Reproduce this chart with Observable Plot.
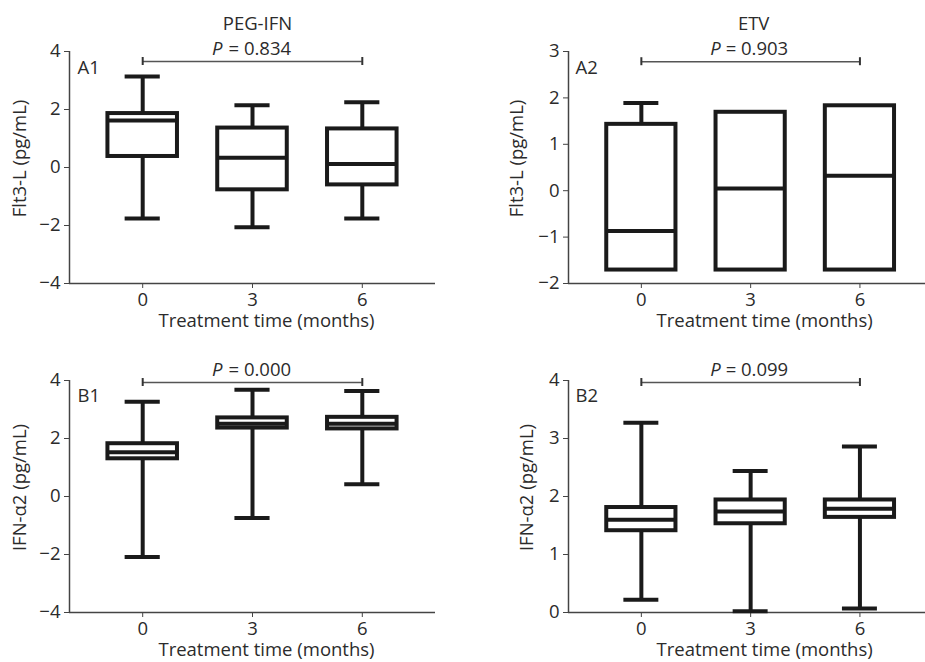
<!DOCTYPE html>
<html>
<head>
<meta charset="utf-8">
<script src="https://cdn.jsdelivr.net/npm/d3@7"></script>
<script src="https://cdn.jsdelivr.net/npm/@observablehq/plot@0.6"></script>
<style>
  html, body { margin: 0; padding: 0; background: #fff; }
  #wrap { position: relative; width: 925px; height: 662px; overflow: hidden; }
  svg { font-family: "Open Sans", sans-serif; overflow: visible; }
</style>
</head>
<body>
<div id="wrap"></div>
<script>
// ---- Data ----
const months = [0, 3, 6];

// A1: PEG-IFN, Flt3-L (pg/mL)
const a1Low    = [-1.76, -2.06, -1.76];
const a1Q1     = [0.38, -0.77, -0.60];
const a1Median = [1.62, 0.34, 0.12];
const a1Q3     = [1.86, 1.36, 1.33];
const a1High   = [3.14, 2.15, 2.25];

// A2: ETV, Flt3-L (pg/mL)
const a2Low    = [-1.71, -1.71, -1.71];
const a2Q1     = [-1.71, -1.71, -1.71];
const a2Median = [-0.87, 0.05, 0.32];
const a2Q3     = [1.43, 1.69, 1.83];
const a2High   = [1.89, 1.69, 1.83];

// B1: PEG-IFN, IFN-α2 (pg/mL)
const b1Low    = [-2.09, -0.74, 0.42];
const b1Q1     = [1.30, 2.36, 2.33];
const b1Median = [1.53, 2.51, 2.51];
const b1Q3     = [1.82, 2.71, 2.73];
const b1High   = [3.27, 3.68, 3.64];

// B2: ETV, IFN-α2 (pg/mL)
const b2Low    = [0.22, 0.02, 0.07];
const b2Q1     = [1.41, 1.53, 1.64];
const b2Median = [1.60, 1.74, 1.79];
const b2Q3     = [1.81, 1.94, 1.94];
const b2High   = [3.27, 2.44, 2.86];

const titles   = ["PEG-IFN", "ETV", "", ""];
const pValues  = ["= 0.834", "= 0.903", "= 0.000", "= 0.099"];
const panelIds = ["A1", "A2", "B1", "B2"];
const yLabels  = ["Flt3-L (pg/mL)", "Flt3-L (pg/mL)", "IFN-α2 (pg/mL)", "IFN-α2 (pg/mL)"];
const xLabel   = "Treatment time (months)";
const yTicksA1 = [-4, -2, 0, 2, 4];
const yTicksA2 = [-2, -1, 0, 1, 2, 3];
const yTicksB1 = [-4, -2, 0, 2, 4];
const yTicksB2 = [0, 1, 2, 3, 4];
const bracketY = [3.655, 2.78, 3.93, 3.965];

// ---- Drawing ----
const INK = "#1a1a1a";
const AXIS = "#444";
const TEXT = "#2b2b2b";
const FS = 18.5;

function rows(low, q1, med, q3, high) {
  return months.map((m, i) => ({m, low: low[i], q1: q1[i], med: med[i], q3: q3[i], high: high[i]}));
}

function panel(cfg) {
  const data = rows(...cfg.series);
  const y0 = cfg.yDomain[0];
  const bw = 0.95, cw = 0.48;
  const br = [{x1: 0, x2: 6, y: cfg.bracket}];
  return Plot.plot({
    width: cfg.width,
    height: cfg.height,
    marginLeft: cfg.ml,
    marginRight: cfg.mr,
    marginTop: cfg.mt,
    marginBottom: cfg.mb,
    style: {fontFamily: "'Open Sans', sans-serif", fontSize: FS + "px", color: TEXT, background: "transparent", overflow: "visible"},
    x: {domain: cfg.xDomain, label: null},
    y: {domain: cfg.yDomain, label: null},
    marks: [
      Plot.axisX({ticks: months, tickSize: 5, tickPadding: 4, stroke: AXIS, fill: TEXT, fontSize: FS, label: null, tickFormat: d3.format("d")}),
      Plot.axisY({ticks: cfg.yTicks, tickSize: 5, tickPadding: 4, stroke: AXIS, fill: TEXT, fontSize: FS, label: null, tickFormat: d3.format("d")}),
      Plot.ruleX([cfg.xDomain[0]], {stroke: AXIS, strokeWidth: 1.5}),
      Plot.ruleY([y0], {stroke: AXIS, strokeWidth: 1.5}),
      // whiskers
      Plot.ruleX(data, {x: "m", y1: "q3", y2: "high", stroke: INK, strokeWidth: 4}),
      Plot.ruleX(data, {x: "m", y1: "low", y2: "q1", stroke: INK, strokeWidth: 4}),
      Plot.ruleY(data.filter(d => d.high > d.q3), {y: "high", x1: d => d.m - cw, x2: d => d.m + cw, stroke: INK, strokeWidth: 4}),
      Plot.ruleY(data.filter(d => d.low < d.q1), {y: "low", x1: d => d.m - cw, x2: d => d.m + cw, stroke: INK, strokeWidth: 4}),
      // boxes
      Plot.rect(data, {x1: d => d.m - bw, x2: d => d.m + bw, y1: "q1", y2: "q3", fill: "white", stroke: INK, strokeWidth: 4}),
      Plot.ruleY(data, {y: "med", x1: d => d.m - bw, x2: d => d.m + bw, stroke: INK, strokeWidth: 4}),
      // significance bracket
      Plot.ruleY(br, {y: "y", x1: "x1", x2: "x2", stroke: "#555", strokeWidth: 1.5}),
      Plot.ruleX([0, 6], {x: d => d, y1: () => cfg.bracket, y2: () => cfg.bracket, insetTop: -4, insetBottom: -4, stroke: "#333", strokeWidth: 2}),
      // P value text
      Plot.text(["P"], {x: () => 3, frameAnchor: "top", dy: cfg.pdy, dx: -30, textAnchor: "end", lineAnchor: "middle", fontStyle: "italic", fill: TEXT, fontSize: FS}),
      Plot.text([cfg.p], {x: () => 3, frameAnchor: "top", dy: cfg.pdy, dx: cfg.pdx, textAnchor: "start", lineAnchor: "middle", fill: TEXT, fontSize: FS}),
      // title
      cfg.title ? Plot.text([cfg.title], {x: () => 3, frameAnchor: "top", dy: -27, dx: cfg.tdx, lineAnchor: "middle", fill: TEXT, fontSize: FS}) : null,
      // panel id
      Plot.text([cfg.id], {frameAnchor: "top-left", dx: cfg.idx, dy: cfg.idy, textAnchor: "start", lineAnchor: "middle", fill: TEXT, fontSize: FS}),
      // axis titles
      Plot.text([cfg.yLabel], {frameAnchor: "left", rotate: -90, dx: -cfg.ylOff, dy: -9, textAnchor: "middle", lineAnchor: "middle", fill: TEXT, fontSize: FS}),
      Plot.text([xLabel], {x: () => 3, frameAnchor: "bottom", dy: cfg.xldy, dx: 14, textAnchor: "middle", lineAnchor: "middle", fill: TEXT, fontSize: FS})
    ].filter(Boolean)
  });
}

const wrap = document.getElementById("wrap");
const configs = [
  {left: 0,   top: 0,   width: 460, height: 330, ml: 69,  mr: 25, mt: 51, mb: 47, xDomain: [-2, 8],   yDomain: [-4, 4], yTicks: yTicksA1,
   series: [a1Low, a1Q1, a1Median, a1Q3, a1High], bracket: bracketY[0], p: pValues[0], title: titles[0], id: panelIds[0], yLabel: yLabels[0],
   ylOff: 49, pdy: -2, pdx: -24, tdx: 5, idx: 8, idy: 17, xldy: 38},
  {left: 460, top: 0,   width: 465, height: 330, ml: 108, mr: 0,  mt: 51, mb: 47, xDomain: [-2, 7.8], yDomain: [-2, 3], yTicks: yTicksA2,
   series: [a2Low, a2Q1, a2Median, a2Q3, a2High], bracket: bracketY[1], p: pValues[1], title: titles[1], id: panelIds[1], yLabel: yLabels[1],
   ylOff: 51, pdy: -2, pdx: -25, tdx: 3, idx: 7, idy: 17, xldy: 38},
  {left: 0,   top: 330, width: 460, height: 332, ml: 69,  mr: 25, mt: 50, mb: 50, xDomain: [-2, 8],   yDomain: [-4, 4], yTicks: yTicksB1,
   series: [b1Low, b1Q1, b1Median, b1Q3, b1High], bracket: bracketY[2], p: pValues[2], title: titles[2], id: panelIds[2], yLabel: yLabels[2],
   ylOff: 49, pdy: -10, pdx: -24, tdx: 5, idx: 8, idy: 16, xldy: 38},
  {left: 460, top: 330, width: 465, height: 332, ml: 108, mr: 0,  mt: 50, mb: 50, xDomain: [-2, 7.8], yDomain: [0, 4], yTicks: yTicksB2,
   series: [b2Low, b2Q1, b2Median, b2Q3, b2High], bracket: bracketY[3], p: pValues[3], title: titles[3], id: panelIds[3], yLabel: yLabels[3],
   ylOff: 41, pdy: -10, pdx: -25, tdx: 3, idx: 7, idy: 16, xldy: 38}
];
for (const cfg of configs) {
  const svg = panel(cfg);
  svg.style.position = "absolute";
  svg.style.left = cfg.left + "px";
  svg.style.top = cfg.top + "px";
  wrap.appendChild(svg);
}
</script>
</body>
</html>
